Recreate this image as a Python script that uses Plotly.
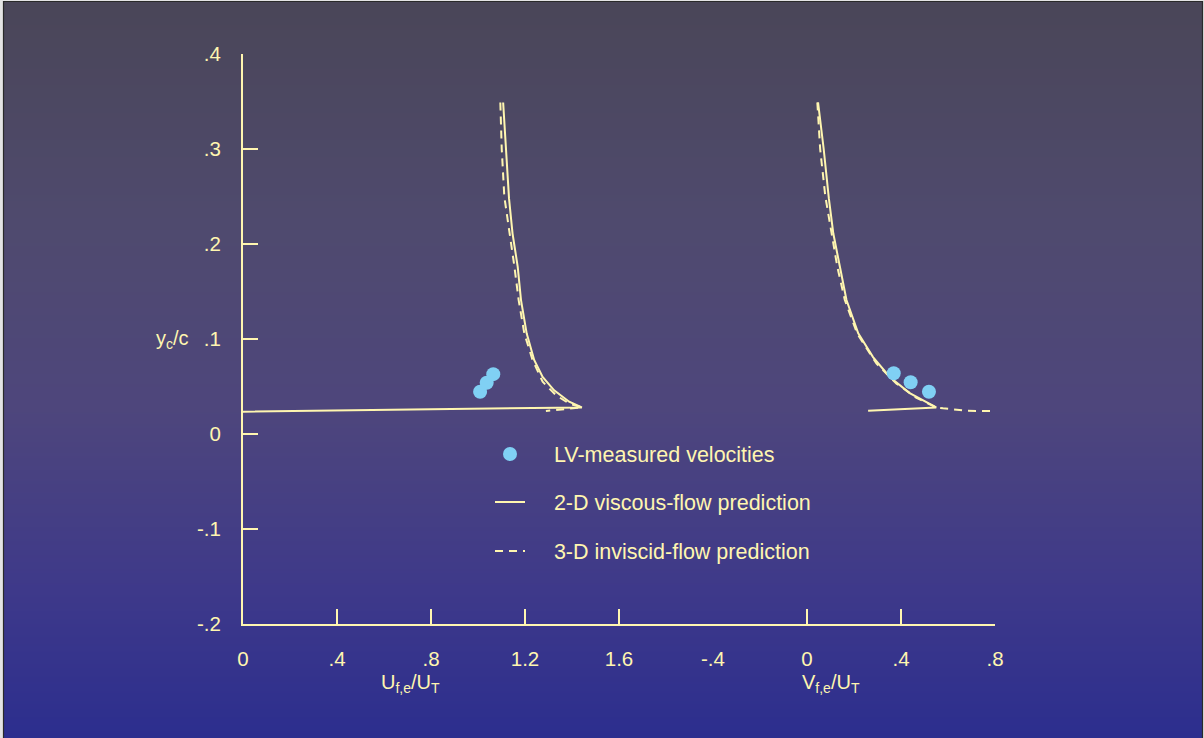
import base64
import struct
import zlib

import plotly.graph_objects as go

# ---------------- data ----------------
# Left panel: U_f,e / U_T
u_lv = [1.009, 1.037, 1.065]
yc_lv_u = [0.0445, 0.054, 0.063]

u_2d = [1.107, 1.119, 1.132, 1.147, 1.169, 1.183, 1.207, 1.239, 1.275, 1.324, 1.388, 1.442, 0.0]
yc_2d_u = [0.349, 0.300, 0.248, 0.211, 0.176, 0.141, 0.106, 0.078, 0.060, 0.046, 0.034, 0.028, 0.0235]

u_3d = [1.095, 1.101, 1.112, 1.136, 1.155, 1.173, 1.197, 1.232, 1.275, 1.331, 1.388, 1.442, 1.289]
yc_3d_u = [0.349, 0.300, 0.250, 0.211, 0.176, 0.141, 0.106, 0.078, 0.055, 0.041, 0.032, 0.028, 0.0242]

# Right panel: V_f,e / U_T
v_lv = [0.369, 0.441, 0.519]
yc_lv_v = [0.064, 0.0544, 0.0445]

v_2d = [0.047, 0.071, 0.093, 0.112, 0.140, 0.168, 0.218, 0.281, 0.352, 0.437, 0.550, 0.260]
yc_2d_v = [0.349, 0.300, 0.248, 0.211, 0.176, 0.141, 0.106, 0.081, 0.060, 0.043, 0.028, 0.0245]

v_3d = [0.044, 0.056, 0.078, 0.105, 0.129, 0.161, 0.213, 0.296, 0.381, 0.466, 0.550, 0.579, 0.678, 0.800]
yc_3d_v = [0.349, 0.300, 0.250, 0.211, 0.176, 0.141, 0.106, 0.074, 0.053, 0.038, 0.028, 0.027, 0.0245, 0.024]

# ticks
u_ticks = [0, 0.4, 0.8, 1.2, 1.6]
u_ticktext = ["0", ".4", ".8", "1.2", "1.6"]
v_ticks = [-0.4, 0, 0.4, 0.8]
v_ticktext = ["-.4", "0", ".4", ".8"]
y_ticks = [-0.2, -0.1, 0, 0.1, 0.2, 0.3, 0.4]
y_ticktext = ["-.2", "-.1", "0", ".1", ".2", ".3", ".4"]

# ---------------- styling ----------------
W, H = 1204, 738
ML, MR, MT, MB = 243, 209, 54, 114
PW, PH = W - ML - MR, H - MT - MB
FG = "#fff6b0"
DOT = "#80d0f4"
FONT = "Liberation Sans, Arial, sans-serif"
DASH = "8px,6px"
PAD = "\u00a0" * 4


def px_x(px):
    return (px - ML) / PW


def px_y(py):
    return (H - MB - py) / PH


fig = go.Figure()

# lines (left panel)
fig.add_trace(go.Scatter(x=u_2d, y=yc_2d_u, mode="lines", xaxis="x", yaxis="y",
                         line=dict(color=FG, width=2), name=PAD + "2-D viscous-flow prediction",
                         legend="legend2", showlegend=True, hoverinfo="skip"))
fig.add_trace(go.Scatter(x=u_3d, y=yc_3d_u, mode="lines", xaxis="x", yaxis="y",
                         line=dict(color=FG, width=2, dash=DASH), name=PAD + "3-D inviscid-flow prediction",
                         legend="legend3", showlegend=True, hoverinfo="skip"))
# lines (right panel)
fig.add_trace(go.Scatter(x=v_2d, y=yc_2d_v, mode="lines", xaxis="x2", yaxis="y",
                         line=dict(color=FG, width=2), showlegend=False, hoverinfo="skip"))
fig.add_trace(go.Scatter(x=v_3d, y=yc_3d_v, mode="lines", xaxis="x2", yaxis="y",
                         line=dict(color=FG, width=2, dash=DASH), showlegend=False, hoverinfo="skip"))
# LV points
fig.add_trace(go.Scatter(x=u_lv, y=yc_lv_u, mode="markers", xaxis="x", yaxis="y",
                         marker=dict(color=DOT, size=14, line=dict(width=0)),
                         name=PAD + "LV-measured velocities", legend="legend", showlegend=True))
fig.add_trace(go.Scatter(x=v_lv, y=yc_lv_v, mode="markers", xaxis="x2", yaxis="y",
                         marker=dict(color=DOT, size=14, line=dict(width=0)), showlegend=False))

# ---------------- background gradient (as an image) ----------------
stops = [(0.0, (74, 70, 88)), (0.30, (79, 74, 110)), (0.55, (78, 70, 124)),
         (0.80, (62, 57, 138)), (1.0, (44, 46, 142))]


def grad(t):
    for (t0, c0), (t1, c1) in zip(stops[:-1], stops[1:]):
        if t <= t1:
            f = (t - t0) / (t1 - t0) if t1 > t0 else 0
            return tuple(round(a + (b - a) * f) for a, b in zip(c0, c1))
    return stops[-1][1]


def png_chunk(tag, data):
    return (struct.pack(">I", len(data)) + tag + data
            + struct.pack(">I", zlib.crc32(tag + data) & 0xFFFFFFFF))


GH, GW = 736, 4
raw = b"".join(b"\x00" + bytes(grad(i / (GH - 1))) * GW for i in range(GH))
png = (b"\x89PNG\r\n\x1a\n"
       + png_chunk(b"IHDR", struct.pack(">IIBBBBB", GW, GH, 8, 2, 0, 0, 0))
       + png_chunk(b"IDAT", zlib.compress(raw, 9))
       + png_chunk(b"IEND", b""))
src = "data:image/png;base64," + base64.b64encode(png).decode()

images = [dict(source=src, xref="paper", yref="paper", x=px_x(4), y=px_y(2),
               sizex=1198 / PW, sizey=736 / PH, sizing="stretch", layer="below",
               xanchor="left", yanchor="top")]

shapes = [dict(type="rect", xref="paper", yref="paper", layer="below",
               x0=px_x(3.5), x1=px_x(1202.5), y0=px_y(H + 1), y1=px_y(1.5),
               fillcolor="rgba(0,0,0,0)", line=dict(color="#2a2a2a", width=1.2))]

axis_common = dict(showline=True, linecolor=FG, linewidth=2, ticks="inside", ticklen=15,
                   tickwidth=2, tickcolor=FG, showgrid=False, zeroline=False,
                   tickfont=dict(color=FG, size=20.5, family=FONT), fixedrange=True)

annotations = [
    dict(text="y<sub>c</sub>/c", xref="paper", yref="y", x=px_x(191), y=0.1,
         xanchor="right", yanchor="middle", showarrow=False,
         font=dict(color=FG, size=20, family=FONT)),
    dict(text="U<sub>f,e</sub>/U<sub>T</sub>", xref="paper", yref="paper", x=px_x(410),
         y=px_y(684), xanchor="center", yanchor="middle", showarrow=False,
         font=dict(color=FG, size=20, family=FONT)),
    dict(text="V<sub>f,e</sub>/U<sub>T</sub>", xref="paper", yref="paper", x=px_x(831),
         y=px_y(684), xanchor="center", yanchor="middle", showarrow=False,
         font=dict(color=FG, size=20, family=FONT)),
]

leg_common = dict(bgcolor="rgba(0,0,0,0)", borderwidth=0, xanchor="left", yanchor="middle",
                  font=dict(color=FG, size=21.5, family=FONT), itemclick=False, itemdoubleclick=False)

fig.update_layout(
    width=W, height=H,
    margin=dict(l=ML, r=MR, t=MT, b=MB, pad=0),
    paper_bgcolor="#e4e4e4",
    plot_bgcolor="rgba(0,0,0,0)",
    font=dict(family=FONT, color=FG),
    xaxis=dict(domain=[0, px_x(713)], range=[0, 2.0], tickvals=u_ticks, ticktext=u_ticktext,
               anchor="y", ticklabelstandoff=15, **axis_common),
    xaxis2=dict(domain=[px_x(713), 1], range=[-0.4, 0.8], tickvals=v_ticks, ticktext=v_ticktext,
                anchor="y", ticklabelstandoff=15, **axis_common),
    yaxis=dict(domain=[0, 1], range=[-0.2, 0.4], tickvals=y_ticks, ticktext=y_ticktext,
               anchor="x", ticklabelstandoff=16, **axis_common),
    legend=dict(x=px_x(490), y=px_y(454), **leg_common),
    legend2=dict(x=px_x(490), y=px_y(502), **leg_common),
    legend3=dict(x=px_x(490), y=px_y(551), **leg_common),
    shapes=shapes,
    images=images,
    annotations=annotations,
    showlegend=True,
)

fig.write_html("out.html", config=dict(displayModeBar=False),
               post_script="document.body.style.margin='0';document.body.style.overflow='hidden';")
